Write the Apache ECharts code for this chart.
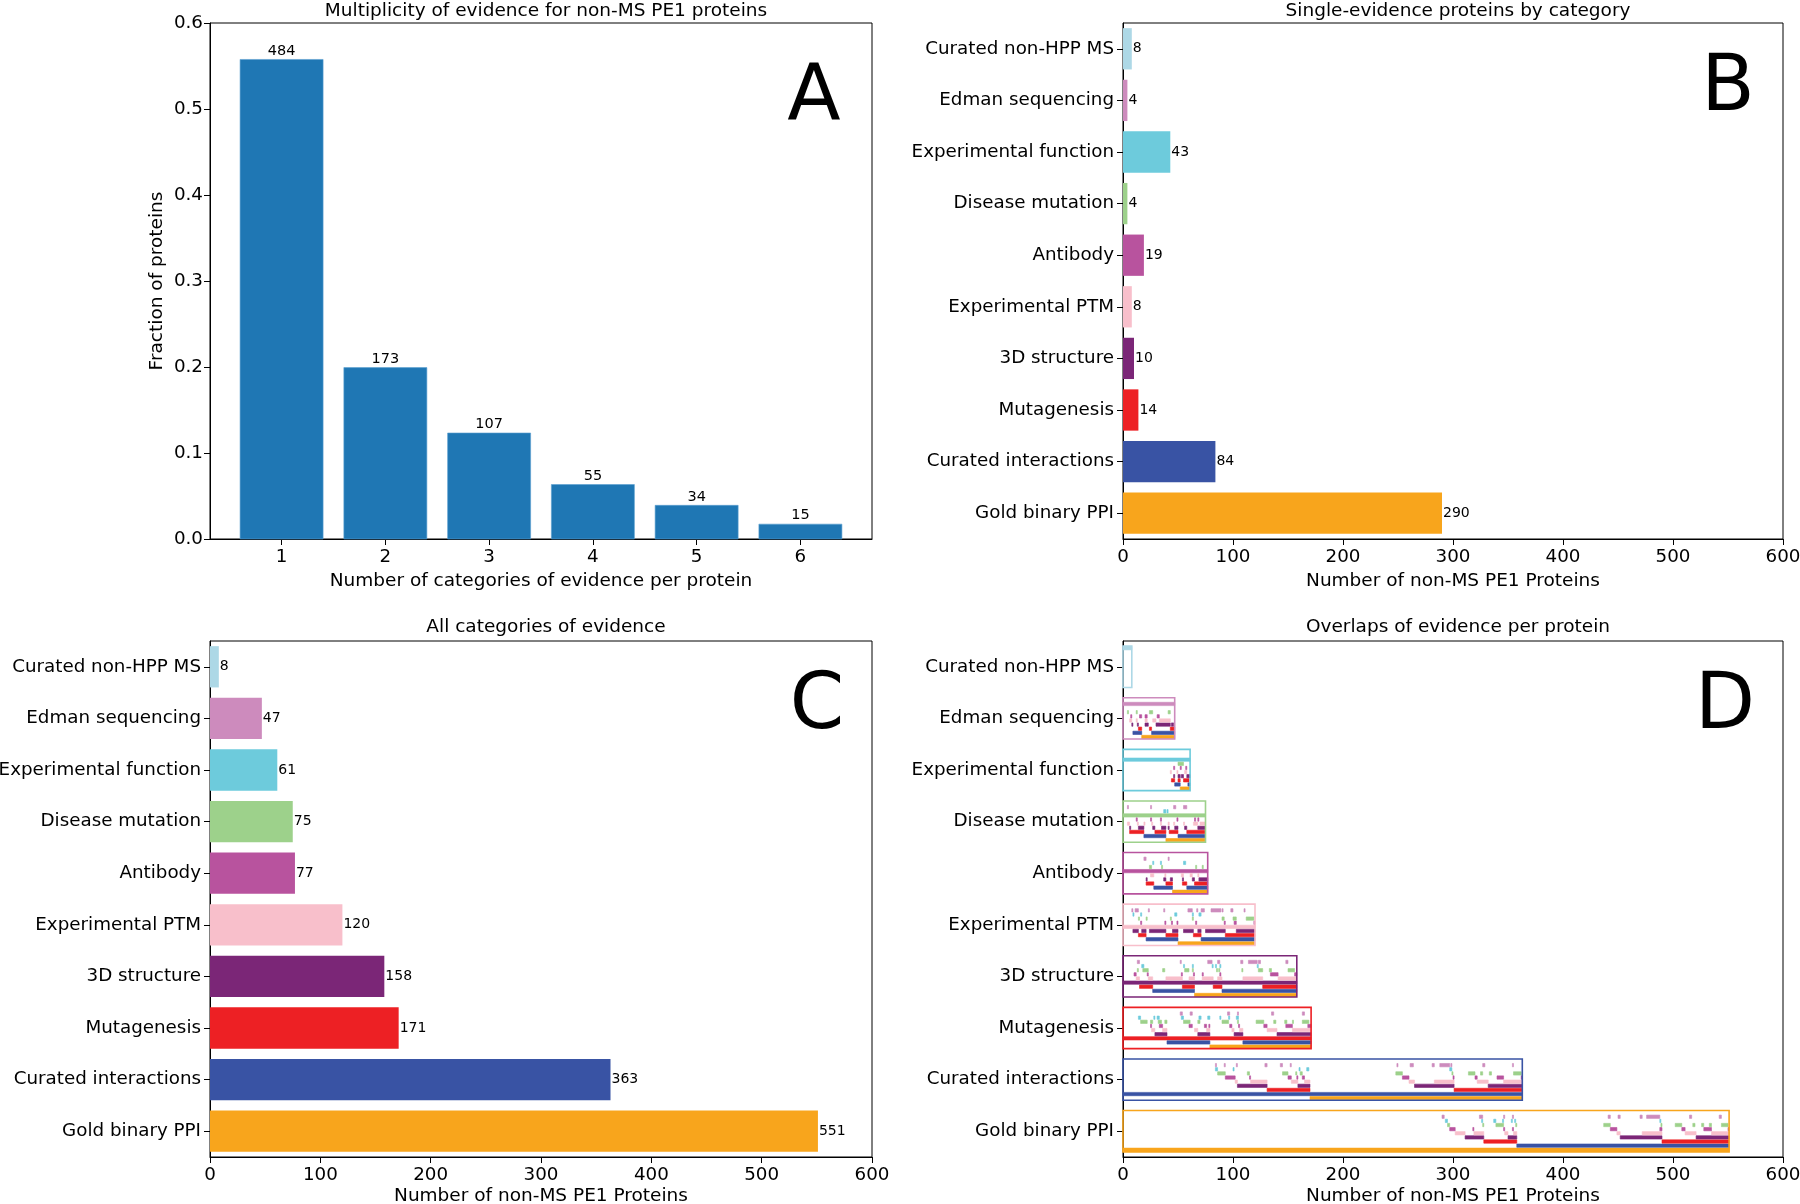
<!DOCTYPE html>
<html><head><meta charset="utf-8">
<script src="https://cdn.jsdelivr.net/npm/echarts@6/dist/echarts.min.js"></script>
<style>html,body{margin:0;padding:0;background:#fff}#c{width:1800px;height:1204px}</style>
</head><body><div id="c"></div>
<script>
// ---------- DATA ----------
const multiplicityCats = [1, 2, 3, 4, 5, 6];
const multiplicityCounts = [484, 173, 107, 55, 34, 15];

const categories = ["Curated non-HPP MS", "Edman sequencing", "Experimental function", "Disease mutation",
  "Antibody", "Experimental PTM", "3D structure", "Mutagenesis", "Curated interactions", "Gold binary PPI"];
const catColors = ["#add8e6", "#cd8bbd", "#6dcbdc", "#9dd18b", "#b8539e", "#f8bfcb", "#7b2677", "#ed2024", "#3953a4", "#f8a51c"];
const singleCounts = [8, 4, 43, 4, 19, 8, 10, 14, 84, 290];
const allCounts = [8, 47, 61, 75, 77, 120, 158, 171, 363, 551];

// Panel D: segments [lane, start, end]; lane 0 = Gold binary PPI ... lane 9 = Curated non-HPP MS
const segNonHPP = [[9,0,8]];
const segEdman = [[8,0,47],[0,17,47],[1,9,17],[1,26,47],[2,14,17],[2,24,26],[2,43,47],
  [3,8,9],[3,13,14],[3,20,23],[3,30,43],[3,44,46],[4,6,8],[4,12,13],[4,20,22],[4,27,30],[4,33,43],
  [5,7,8],[5,15,17],[5,20,22],[5,31,33],[6,4,5],[6,12,13],[6,24,27],[6,41,43]];
const segExpFunc = [[7,0,61],[0,52,61],[1,47,52],[1,59,61],[2,44,47],[2,50,52],[2,55,60],
  [3,46,47],[3,50,52],[3,53,55],[3,58,61],[4,43,44],[4,49,50],[4,56,58],
  [5,46,47],[5,52,53],[5,57,58],[6,50,55]];
const segDisease = [[6,0,75],[0,39,75],[1,19,39],[1,50,75],[2,6,19],[2,29,39],[2,42,50],[2,58,75],
  [3,6,7],[3,14,19],[3,27,29],[3,35,39],[3,41,42],[3,47,50],[3,56,58],[3,68,75],
  [4,4,6],[4,13,14],[4,19,20],[4,26,27],[4,34,35],[4,41,42],[4,46,47],[4,55,56],[4,64,68],[4,70,75],
  [5,12,13],[5,25,26],[5,34,35],[5,49,50],[5,65,66],[5,68,69],
  [7,37,39],[7,40,41],[8,4,5],[8,25,26],[8,46,48],[8,55,58]];
const segAntibody = [[5,0,77],[0,45,77],[1,28,45],[1,58,77],[2,21,28],[2,39,45],[2,54,58],[2,65,77],
  [3,21,22],[3,37,39],[3,43,45],[3,54,55],[3,63,65],[3,69,77],
  [4,25,28],[4,38,39],[4,53,55],[4,61,63],[4,68,69],
  [6,24,26],[6,35,36],[6,66,67],[6,72,73],[7,27,28],[7,34,35],[7,55,57],[8,19,21],[8,41,42]];
const segPTM = [[4,0,120],[0,50,120],[1,21,50],[1,71,120],[2,14,21],[2,39,50],[2,64,71],[2,93,120],
  [3,9,14],[3,17,21],[3,24,39],[3,45,50],[3,55,64],[3,68,71],[3,75,93],[3,103,120],
  [5,16,17],[5,38,39],[5,44,45],[5,49,50],[5,66,67],[5,92,93],[5,101,103],[5,119,120],
  [6,14,15],[6,21,22],[6,43,44],[6,63,64],[6,90,92],[6,100,103],[6,112,119],
  [7,9,10],[7,16,17],[7,47,49],[7,63,64],[7,69,71],
  [8,8,9],[8,11,14],[8,23,24],[8,37,38],[8,59,63],[8,67,68],[8,71,74],[8,80,89],[8,90,91],[8,98,100],[8,110,111]];
const seg3D = [[3,0,158],[0,65,158],[1,27,65],[1,90,158],[2,15,27],[2,54,65],[2,82,90],[2,127,158],
  [4,12,15],[4,23,27],[4,39,54],[4,60,65],[4,72,82],[4,86,90],[4,109,127],[4,141,158],
  [5,10,12],[5,22,23],[5,53,54],[5,64,65],[5,72,73],[5,88,89],[5,134,141],[5,156,158],
  [6,13,14],[6,18,23],[6,36,38],[6,56,60],[6,63,64],[6,85,86],[6,87,88],[6,108,109],[6,123,127],[6,133,135],[6,150,156],
  [7,17,19],[7,55,56],[7,63,64],[7,81,82],[7,84,85],[7,88,89],[7,122,123],
  [8,13,15],[8,52,53],[8,77,81],[8,86,88],[8,107,109],[8,114,122],[8,123,125],[8,148,150]];
const segMutagenesis = [[2,0,171],[0,79,171],[1,40,79],[1,109,171],
  [3,29,40],[3,68,79],[3,101,109],[3,140,171],
  [4,26,29],[4,36,40],[4,65,68],[4,76,79],[4,99,101],[4,106,109],[4,131,140],[4,154,171],
  [5,25,26],[5,33,36],[5,60,63],[5,74,76],[5,78,79],[5,97,99],[5,105,106],[5,128,131],[5,148,154],[5,168,171],
  [6,16,22],[6,25,27],[6,32,35],[6,38,40],[6,55,61],[6,68,70],[6,90,96],[6,104,105],[6,121,128],[6,137,139],[6,147,149],[6,154,155],[6,163,169],
  [7,14,16],[7,28,29],[7,31,33],[7,53,55],[7,69,71],[7,77,79],[7,88,89],[7,96,97],[7,103,105],
  [8,52,54],[8,61,63],[8,95,97],[8,104,105],[8,135,137],[8,163,165]];
const segCurated = [[1,0,363],[0,170,363],[2,131,170],[2,301,363],
  [3,104,131],[3,159,170],[3,265,301],[3,332,363],
  [4,102,104],[4,116,131],[4,153,159],[4,165,170],[4,260,265],[4,283,301],[4,322,332],[4,346,363],
  [5,93,102],[5,115,116],[5,150,153],[5,158,159],[5,163,165],[5,254,260],[5,300,301],[5,320,322],[5,340,346],[5,362,363],
  [6,86,93],[6,113,115],[6,145,150],[6,157,158],[6,161,163],[6,248,254],[6,299,300],[6,314,320],[6,325,327],[6,333,335],[6,355,362],
  [7,84,86],[7,100,101],[7,160,161],[7,167,169],[7,297,299],
  [8,84,85],[8,92,93],[8,103,104],[8,129,131],[8,143,145],[8,152,153],[8,249,250],[8,261,264],[8,281,283],[8,288,297],[8,298,299],[8,327,329],[8,354,355]];
const segGold = [[0,0,551],[1,358,551],[2,328,358],[2,490,551],
  [3,311,328],[3,350,358],[3,452,490],[3,521,551],
  [4,302,311],[4,319,328],[4,347,350],[4,355,358],[4,449,452],[4,472,490],[4,511,521],[4,535,551],
  [5,297,302],[5,318,319],[5,346,347],[5,354,355],[5,443,449],[5,488,490],[5,508,511],[5,528,535],[5,550,551],
  [6,295,297],[6,327,328],[6,339,346],[6,357,358],[6,437,443],[6,489,490],[6,502,508],[6,518,520],[6,526,528],[6,533,535],[6,544,550],
  [7,293,295],[7,326,327],[7,337,339],[7,345,346],[7,353,354],[7,356,357],[7,488,489],
  [8,290,292],[8,324,327],[8,346,347],[8,354,355],[8,441,443],[8,450,452],[8,470,472],[8,476,488],[8,515,517],[8,542,544]];
const rowSegments = [segNonHPP, segEdman, segExpFunc, segDisease, segAntibody, segPTM, seg3D, segMutagenesis, segCurated, segGold];

// ---------- CHART ----------
const FONT = "DejaVu Sans";
const total = multiplicityCounts.reduce((a, b) => a + b, 0);
const fracData = multiplicityCats.map((c, i) => [c, multiplicityCounts[i] / total, multiplicityCounts[i]]);

const segData = [];
rowSegments.forEach((segs, r) => segs.forEach(s => segData.push([s[1], s[2], r, s[0]])));
const boxData = allCounts.map((v, r) => [0, v, r]);

const baseAxisLine = { show: true, lineStyle: { color: '#000', width: 1 } };
const baseTick = { show: true, length: 6, lineStyle: { color: '#000', width: 1 } };
const baseLabel = { color: '#000', fontSize: 18.3, fontFamily: FONT };
const nameStyle = { color: '#000', fontSize: 18.5, fontFamily: FONT };

function valueX(gi, name, gap) {
  return { type: 'value', gridIndex: gi, min: 0, max: 600, interval: 100, splitLine: { show: false },
    axisLine: baseAxisLine, axisTick: baseTick, axisLabel: Object.assign({ margin: 9 }, baseLabel),
    name: name, nameLocation: 'middle', nameGap: gap, nameTextStyle: nameStyle };
}
function catY(gi) {
  return { type: 'category', gridIndex: gi, data: categories, inverse: true,
    axisLine: baseAxisLine, axisTick: Object.assign({ alignWithLabel: true }, baseTick),
    axisLabel: Object.assign({ margin: 9, interval: 0 }, baseLabel), splitLine: { show: false } };
}
const gridBase = { show: true, borderColor: '#000', borderWidth: 1, containLabel: false, outerBoundsMode: 'none' };

const option = {
  animation: false,
  backgroundColor: '#fff',
  textStyle: { fontFamily: FONT },
  title: [
    { text: 'Multiplicity of evidence for non-MS PE1 proteins', left: 541, top: -3, textAlign: 'center' },
    { text: 'Single-evidence proteins by category', left: 1453, top: -3, textAlign: 'center' },
    { text: 'All categories of evidence', left: 541, top: 613, textAlign: 'center' },
    { text: 'Overlaps of evidence per protein', left: 1453, top: 613, textAlign: 'center' }
  ].map(t => Object.assign(t, { textStyle: { color: '#000', fontSize: 18.5, fontWeight: 'normal', fontFamily: FONT } })),
  grid: [
    Object.assign({ left: 210, top: 23, width: 662, height: 516 }, gridBase),
    Object.assign({ left: 1123, top: 23, width: 660, height: 516 }, gridBase),
    Object.assign({ left: 210, top: 641, width: 662, height: 516 }, gridBase),
    Object.assign({ left: 1123, top: 641, width: 660, height: 516 }, gridBase)
  ],
  xAxis: [
    { type: 'value', gridIndex: 0, min: 0.31, max: 6.69, splitLine: { show: false },
      axisLine: baseAxisLine,
      axisTick: Object.assign({ customValues: multiplicityCats }, baseTick),
      axisLabel: Object.assign({ customValues: multiplicityCats, margin: 9 }, baseLabel),
      name: 'Number of categories of evidence per protein', nameLocation: 'middle', nameGap: 33, nameTextStyle: nameStyle },
    valueX(1, 'Number of non-MS PE1 Proteins', 33),
    valueX(2, 'Number of non-MS PE1 Proteins', 30),
    valueX(3, 'Number of non-MS PE1 Proteins', 30)
  ],
  yAxis: [
    { type: 'value', gridIndex: 0, min: 0, max: 0.6, interval: 0.1, splitLine: { show: false },
      axisLine: baseAxisLine, axisTick: baseTick,
      axisLabel: Object.assign({ margin: 7, formatter: v => v.toFixed(1) }, baseLabel),
      name: 'Fraction of proteins', nameLocation: 'middle', nameGap: 43, nameTextStyle: nameStyle },
    catY(1), catY(2), catY(3)
  ],
  series: [
    { type: 'custom', xAxisIndex: 0, yAxisIndex: 0, data: fracData, encode: { x: 0, y: 1 },
      renderItem: function (params, api) {
        const x = api.value(0), y = api.value(1), n = api.value(2);
        const p0 = api.coord([x - 0.4, y]), p1 = api.coord([x + 0.4, 0]);
        return { type: 'group', children: [
          { type: 'rect', shape: { x: p0[0], y: p0[1], width: p1[0] - p0[0], height: p1[1] - p0[1] },
            style: { fill: '#1f77b4', stroke: '#5a9fd0', lineWidth: 0.6 } },
          { type: 'text', style: { text: String(n), x: (p0[0] + p1[0]) / 2, y: p0[1] - 1, textAlign: 'center', textVerticalAlign: 'bottom',
            font: '14.5px "DejaVu Sans"', fill: '#000' } }
        ] };
      } },
    { type: 'bar', xAxisIndex: 1, yAxisIndex: 1, barWidth: '80%',
      data: singleCounts.map((v, i) => ({ value: v, itemStyle: { color: catColors[i] } })),
      label: { show: true, position: 'right', distance: 1, color: '#000', fontSize: 14, fontFamily: FONT } },
    { type: 'bar', xAxisIndex: 2, yAxisIndex: 2, barWidth: '80%',
      data: allCounts.map((v, i) => ({ value: v, itemStyle: { color: catColors[i] } })),
      label: { show: true, position: 'right', distance: 1, color: '#000', fontSize: 14, fontFamily: FONT } },
    { type: 'custom', xAxisIndex: 3, yAxisIndex: 3, data: segData, encode: { x: [0, 1], y: 2 },
      renderItem: function (params, api) {
        const s = api.value(0), e = api.value(1), r = api.value(2), lane = api.value(3);
        const c = api.coord([s, r]), c2 = api.coord([e, r]);
        const bh = api.size([0, 1])[1];
        const bottom = c[1] + 0.4 * bh;
        const lh = 0.08 * bh;
        const y0 = bottom - (lane + 1) * lh;
        const col = catColors[9 - lane];
        return { type: 'rect', shape: { x: c[0], y: y0 + 0.4, width: Math.max(c2[0] - c[0], 0.8), height: lh - 0.8 },
          style: { fill: col, stroke: col, lineWidth: 0.6 } };
      } },
    { type: 'custom', xAxisIndex: 3, yAxisIndex: 3, data: boxData, encode: { x: [0, 1], y: 2 }, z: 5,
      renderItem: function (params, api) {
        const s = api.value(0), e = api.value(1), r = api.value(2);
        const c = api.coord([s, r]), c2 = api.coord([e, r]);
        const bh = api.size([0, 1])[1];
        return { type: 'rect', shape: { x: c[0], y: c[1] - 0.4 * bh, width: c2[0] - c[0], height: 0.8 * bh },
          style: { fill: 'none', stroke: catColors[r], lineWidth: 1.6 } };
      } }
  ],
  graphic: [
    { type: 'text', x: 814, y: 100, style: { text: 'A', font: '78px "DejaVu Sans"', textAlign: 'center', textVerticalAlign: 'middle', fill: '#000' } },
    { type: 'text', x: 1728, y: 90, style: { text: 'B', font: '78px "DejaVu Sans"', textAlign: 'center', textVerticalAlign: 'middle', fill: '#000' } },
    { type: 'text', x: 817, y: 708, style: { text: 'C', font: '78px "DejaVu Sans"', textAlign: 'center', textVerticalAlign: 'middle', fill: '#000' } },
    { type: 'text', x: 1725, y: 708, style: { text: 'D', font: '78px "DejaVu Sans"', textAlign: 'center', textVerticalAlign: 'middle', fill: '#000' } }
  ]
};
const chart = echarts.init(document.getElementById('c'), null, { renderer: 'canvas' });
chart.setOption(option);
</script></body></html>
